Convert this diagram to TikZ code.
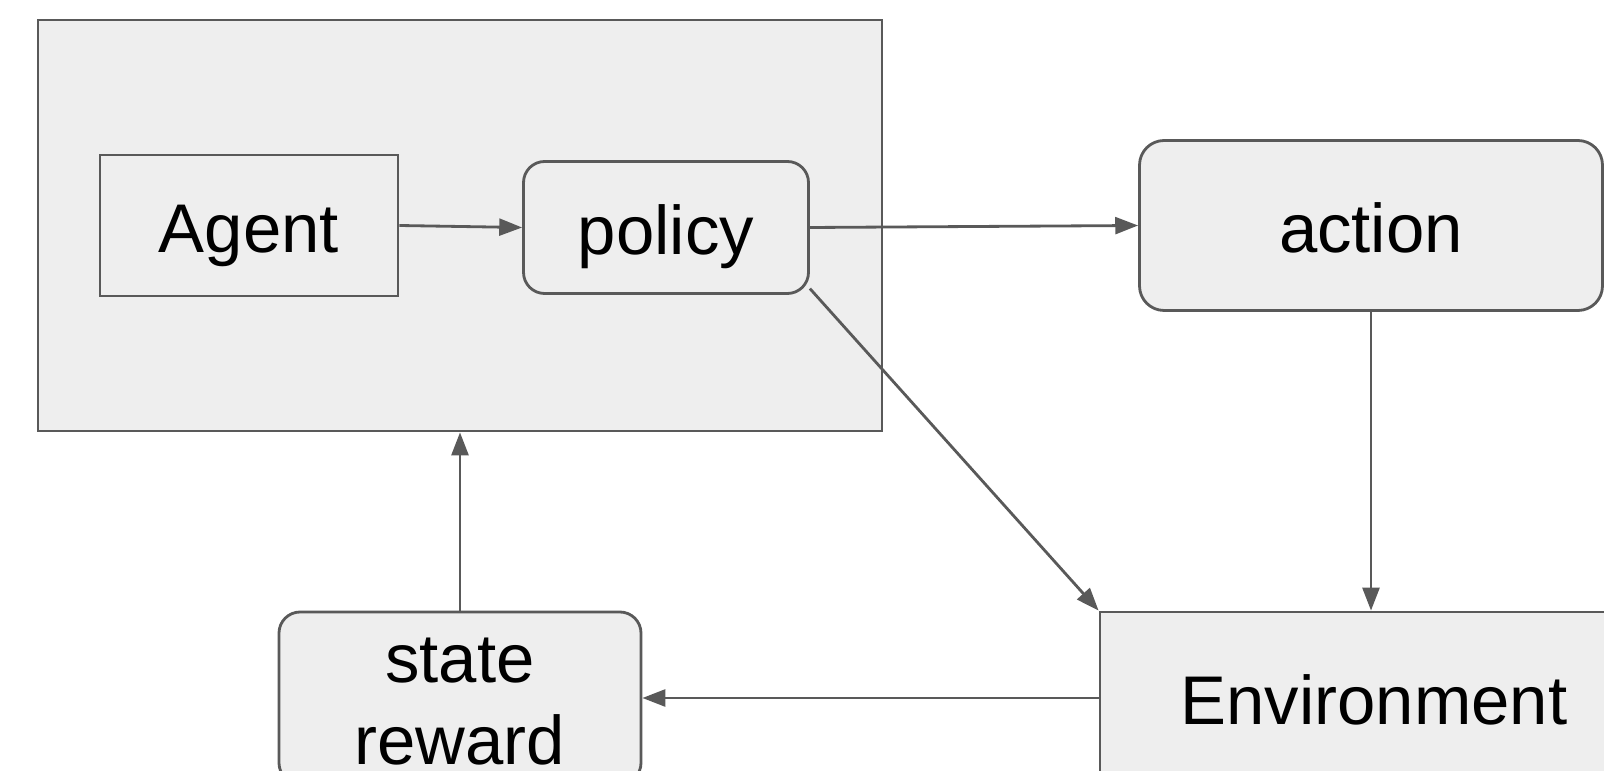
\documentclass[tikz,border=0pt]{standalone}
\usepackage{fontspec}
\setmainfont{Liberation Sans}
\usepackage{tikz}
\usetikzlibrary{positioning, arrows.meta, calc}
\definecolor{RLLine}{RGB}{89,89,89}
\definecolor{RLFill}{RGB}{238,238,238}

\begin{document}
\begin{tikzpicture}[
          box/.style={rectangle, draw=RLLine, fill=RLFill, line width=0.8pt,
                      font=\fontsize{19.6}{23.6}\selectfont, align=center,
                      inner sep=0pt, text height=19.6pt, text depth=4.3pt},
          rbox/.style={box, rounded corners=6pt},
          arr/.style={-{Triangle[length=6.5pt, width=4.8pt]}, RLLine,
                      line width=0.8pt}
        ]
        \useasboundingbox (0,0) rectangle (16.04,-7.71);
        % Agent side
        \node[box, minimum width=8.44cm, minimum height=4.11cm]
              (agentbox) at (4.60,-2.255) {};
        \node[box, minimum width=2.98cm, minimum height=1.41cm]
              (agent) at (2.49,-2.255) {Agent};
        \node[rbox, minimum width=2.85cm, minimum height=1.32cm]
              (policy) at (6.66,-2.275) {policy};
        % Action and environment
        \node[rbox, rounded corners=7pt, minimum width=4.63cm,
              minimum height=1.70cm] (action) at (13.71,-2.255) {action};
        \node[box, minimum width=5.48cm, minimum height=1.72cm]
              (env) at (13.74,-6.98) {Environment};
        \node[rbox, minimum width=3.62cm, minimum height=1.72cm,
              text height=42.4pt] (state) at (4.60,-6.98) {state\\reward};

        % Connectors
        \draw[arr] (agent.east) -- (policy.west);
        \draw[arr] (policy.east) -- (action.west);
        \draw[arr] (policy.-23) -- (env.north west);
        \draw[arr] (action.south) -- (action.south |- env.north);
        \draw[arr] (env.west) -- (state.east);
        \draw[arr] (state.north) -- (agentbox.south);
      \end{tikzpicture}
\end{document}
